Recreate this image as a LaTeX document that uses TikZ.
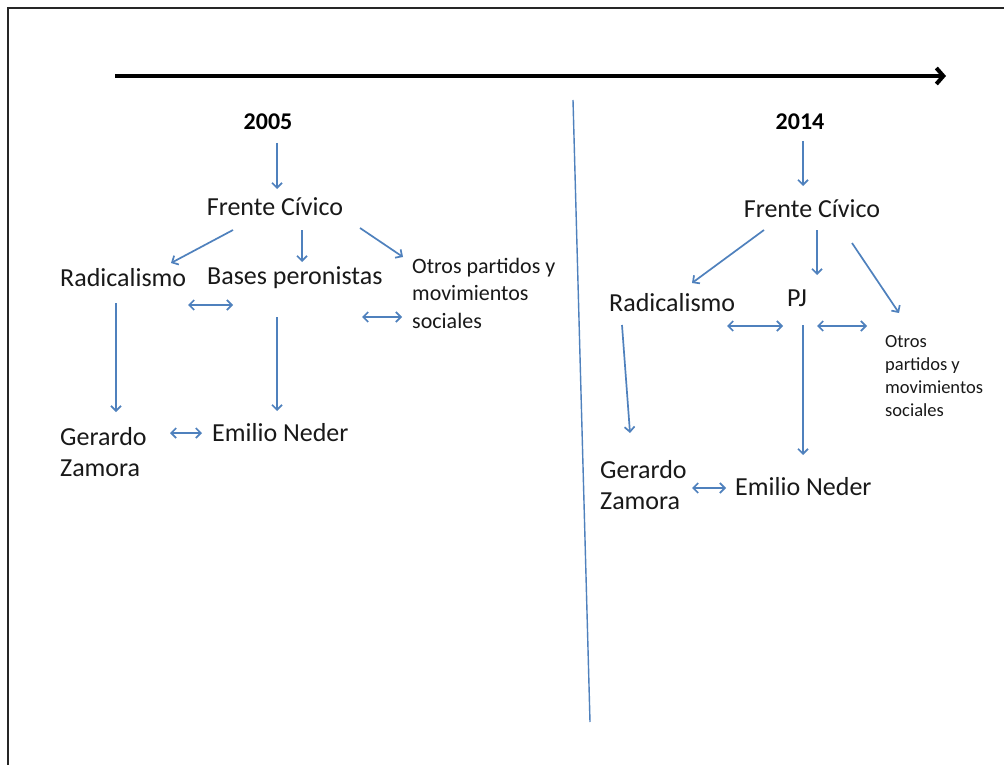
\documentclass[tikz,border=0pt]{standalone}
\usepackage{fontspec}
\setmainfont{Carlito}
\usetikzlibrary{arrows.meta}
\definecolor{ablue}{HTML}{4F81BD}
\begin{document}
\begin{tikzpicture}[x=1pt,y=-1pt,
  lbl/.style={inner sep=0pt, text=black!90, font=\fontsize{26}{31}\selectfont},
  small/.style={inner sep=0pt, text=black!90, align=left, font=\fontsize{22}{27.5}\selectfont},
  tiny/.style={inner sep=0pt, text=black!90, align=left, font=\fontsize{18.5}{23}\selectfont},
  yr/.style={inner sep=0pt, text=black, font=\bfseries\fontsize{24}{28}\selectfont},
  conn/.style={draw=ablue, line width=1.7pt, -{Straight Barb[length=5pt,width=10pt]}},
  both/.style={draw=ablue, line width=1.7pt, {Straight Barb[length=5pt,width=10pt]}-{Straight Barb[length=5pt,width=10pt]}},
  bar/.style={draw=ablue, line width=1.4pt},
]
\useasboundingbox (0,0) rectangle (1004,765);
\fill[white] (0,0) rectangle (1004,765);
\begin{scope}
\clip (0,0) rectangle (1004,765);
\draw[line width=2pt, black!85] (8,8) rectangle (1030,790);
\end{scope}

% timeline
\coordinate (t0) at (115,76);
\coordinate (t1) at (946,76);
\draw[line width=4pt, -{Straight Barb[length=7pt,width=16pt]}] (t0) -- (t1);

% divider
\coordinate (d0) at (573,100);
\coordinate (d1) at (590,722);
\draw[bar] (d0) -- (d1);

% ---------------- left (2005)
\node[yr] (y05) at (268,122) {2005};
\node[lbl] (fc1) at (275,207) {Frente Cívico};
\node[lbl, anchor=west] (rad1) at (60,278) {Radicalismo};
\node[lbl, anchor=west] (bp1) at (207,278) {Bases peronistas};
\node[small, anchor=north west] (ot1) at (412,258) {Otros partidos y\\movimientos\\sociales};
\node[lbl, anchor=north west, align=left] (gz1) at (60,427) {Gerardo\\Zamora};
\node[lbl, anchor=west] (en1) at (212,433) {Emilio Neder};

\coordinate (a1s) at (277,143); \coordinate (a1e) at (277,189);
\draw[conn] (a1s) -- (a1e);
\coordinate (a2s) at (233,230); \coordinate (a2e) at (171,263);
\draw[conn] (a2s) -- (a2e);
\coordinate (a3s) at (302,230); \coordinate (a3e) at (302,262);
\draw[conn] (a3s) -- (a3e);
\coordinate (a4s) at (360,228); \coordinate (a4e) at (403,257);
\draw[conn] (a4s) -- (a4e);
\coordinate (b1s) at (188,305); \coordinate (b1e) at (233,305);
\draw[both] (b1s) -- (b1e);
\coordinate (b2s) at (362,317); \coordinate (b2e) at (402,317);
\draw[both] (b2s) -- (b2e);
\coordinate (a5s) at (116,303); \coordinate (a5e) at (116,412);
\draw[conn] (a5s) -- (a5e);
\coordinate (a6s) at (277,317); \coordinate (a6e) at (277,411);
\draw[conn] (a6s) -- (a6e);
\coordinate (b3s) at (170,433); \coordinate (b3e) at (202,433);
\draw[both] (b3s) -- (b3e);

% ---------------- right (2014)
\node[yr] (y14) at (800,122) {2014};
\node[lbl] (fc2) at (812,209) {Frente Cívico};
\node[lbl, anchor=west] (rad2) at (609,303) {Radicalismo};
\node[lbl] (pj) at (797,298) {PJ};
\node[tiny, anchor=north west] (ot2) at (885,335) {Otros\\partidos y\\movimientos\\sociales};
\node[lbl, anchor=north west, align=left] (gz2) at (600,460) {Gerardo\\Zamora};
\node[lbl, anchor=west] (en2) at (735,487) {Emilio Neder};

\coordinate (c1s) at (803,141); \coordinate (c1e) at (803,186);
\draw[conn] (c1s) -- (c1e);
\coordinate (c2s) at (764,230); \coordinate (c2e) at (692,283);
\draw[conn] (c2s) -- (c2e);
\coordinate (c3s) at (817,230); \coordinate (c3e) at (817,275);
\draw[conn] (c3s) -- (c3e);
\coordinate (c4s) at (852,243); \coordinate (c4e) at (899,313);
\draw[conn] (c4s) -- (c4e);
\coordinate (e1s) at (727,326); \coordinate (e1e) at (783,326);
\draw[both] (e1s) -- (e1e);
\coordinate (e2s) at (817,326); \coordinate (e2e) at (867,326);
\draw[both] (e2s) -- (e2e);
\coordinate (c5s) at (803,325); \coordinate (c5e) at (803,455);
\draw[conn] (c5s) -- (c5e);
\coordinate (c6s) at (622,325); \coordinate (c6e) at (630,433);
\draw[conn] (c6s) -- (c6e);
\coordinate (e3s) at (692,488); \coordinate (e3e) at (726,488);
\draw[both] (e3s) -- (e3e);
\end{tikzpicture}
\end{document}
